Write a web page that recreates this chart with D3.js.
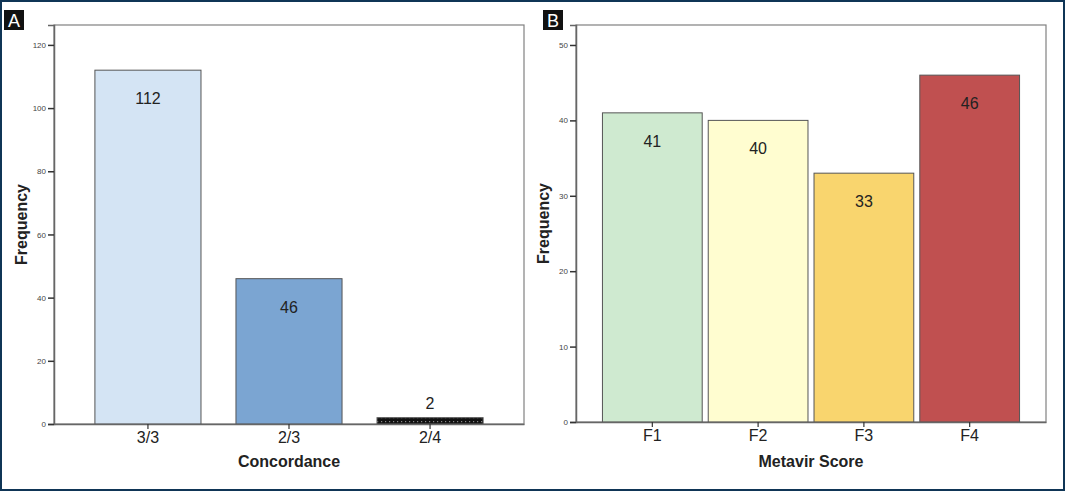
<!DOCTYPE html>
<html>
<head>
<meta charset="utf-8">
<script src="https://cdn.jsdelivr.net/npm/d3@7"></script>
<style>
  body { margin: 0; background: #fff; }
  svg { display: block; font-family: Arial, "Liberation Sans", sans-serif; }
</style>
</head>
<body>
<svg id="chart" width="1065" height="491"></svg>
<script>
(function() {
  var svg, defs, drawPanel;

  // panel A
  var concordance = ["3/3", "2/3", "2/4"];
  var concordanceFreq = [112, 46, 2];
  var concordanceColors = ["#d4e4f4", "#7ba5d2", "url(#dots)"];
  var concordanceTicks = [0, 20, 40, 60, 80, 100, 120];

  // panel B
  var metavir = ["F1", "F2", "F3", "F4"];
  var metavirFreq = [41, 40, 33, 46];
  var metavirColors = ["#cfead0", "#fffdd0", "#f9d56e", "#c05050"];
  var metavirTicks = [0, 10, 20, 30, 40, 50];

  svg = d3.select("#chart");

  // black bar with light dots
  defs = svg.append("defs");
  var pat = defs.append("pattern").attr("id", "dots").attr("patternUnits", "userSpaceOnUse")
    .attr("width", 4).attr("height", 4);
  pat.append("rect").attr("width", 4).attr("height", 4).attr("fill", "#111");
  pat.append("rect").attr("x", 1).attr("y", 1).attr("width", 1.2).attr("height", 1.2).attr("fill", "#888");

  // outer border
  svg.append("rect").attr("x", 1).attr("y", 1).attr("width", 1063).attr("height", 489)
    .attr("fill", "none").attr("stroke", "#0f3556").attr("stroke-width", 2);

  drawPanel = function(opt) {
    var g, x, y, bars;
    g = svg.append("g");

    x = d3.scaleBand().domain(opt.cats).range([opt.left, opt.right])
      .paddingInner(opt.pi).paddingOuter(opt.po);
    y = d3.scaleLinear().domain([0, opt.ymax]).range([opt.bottom, opt.top]);

    // frame
    g.append("rect").attr("x", opt.left).attr("y", opt.top)
      .attr("width", opt.right - opt.left).attr("height", opt.bottom - opt.top)
      .attr("fill", "none").attr("stroke", "#808080").attr("stroke-width", 1.2);

    bars = g.selectAll(".bar").data(opt.values).enter().append("g").attr("class", "bar");
    bars.append("rect")
      .attr("x", function(d, i) { return x(opt.cats[i]); })
      .attr("y", function(d) { return y(d); })
      .attr("width", x.bandwidth())
      .attr("height", function(d) { return opt.bottom - y(d); })
      .attr("fill", function(d, i) { return opt.colors[i]; })
      .attr("stroke", "#555").attr("stroke-width", 1);
    bars.append("text")
      .attr("x", function(d, i) { return x(opt.cats[i]) + x.bandwidth() / 2; })
      .attr("y", function(d) { return d < 10 ? y(d) - 9 : y(d) + 34; })
      .attr("text-anchor", "middle").attr("font-size", 16).attr("fill", "#222")
      .text(function(d) { return d; });

    // y axis
    var ya = g.append("g").attr("transform", "translate(" + opt.left + ",0)")
      .call(d3.axisLeft(y).tickValues(opt.ticks).tickSize(6).tickPadding(2));
    ya.select(".domain").attr("stroke", "#666").attr("stroke-width", 1.5);
    ya.selectAll(".tick line").attr("stroke", "#333").attr("stroke-width", 1.5);
    ya.selectAll(".tick text").attr("font-size", 8).attr("fill", "#444")
      .attr("font-family", "Arial, 'Liberation Sans', sans-serif");

    // x axis
    var xa = g.append("g").attr("transform", "translate(0," + opt.bottom + ")")
      .call(d3.axisBottom(x).tickSize(5).tickSizeOuter(0).tickPadding(3));
    xa.select(".domain").attr("stroke", "#666").attr("stroke-width", 1.5);
    xa.selectAll(".tick line").attr("stroke", "#333").attr("stroke-width", 1.2);
    xa.selectAll(".tick text").attr("font-size", 16).attr("fill", "#222")
      .attr("font-family", "Arial, 'Liberation Sans', sans-serif");

    // titles
    g.append("text").attr("x", (opt.left + opt.right) / 2).attr("y", 467)
      .attr("text-anchor", "middle").attr("font-size", 16).attr("font-weight", "bold")
      .attr("fill", "#222").text(opt.xTitle);
    g.append("text")
      .attr("transform", "translate(" + opt.yTitleX + "," + ((opt.top + opt.bottom) / 2) + ") rotate(-90)")
      .attr("text-anchor", "middle").attr("font-size", 16).attr("font-weight", "bold")
      .attr("fill", "#222").text("Frequency");

    // panel letter
    g.append("rect").attr("x", opt.labelX).attr("y", 10).attr("width", 20).attr("height", 20).attr("fill", "#111");
    g.append("text").attr("x", opt.labelX + 10).attr("y", 27).attr("text-anchor", "middle")
      .attr("font-size", 18).attr("fill", "#fff").text(opt.label);
  };

  drawPanel({
    cats: concordance, values: concordanceFreq, colors: concordanceColors, ticks: concordanceTicks,
    left: 54, right: 524, top: 25, bottom: 424, ymax: 126.3, pi: 0.248, po: 0.29,
    xTitle: "Concordance", yTitleX: 27, label: "A", labelX: 4
  });

  drawPanel({
    cats: metavir, values: metavirFreq, colors: metavirColors, ticks: metavirTicks,
    left: 576, right: 1046, top: 25, bottom: 422, ymax: 52.65, pi: 0.057, po: 0.25,
    xTitle: "Metavir Score", yTitleX: 549, label: "B", labelX: 543
  });
}).call(this);
</script>
</body>
</html>
